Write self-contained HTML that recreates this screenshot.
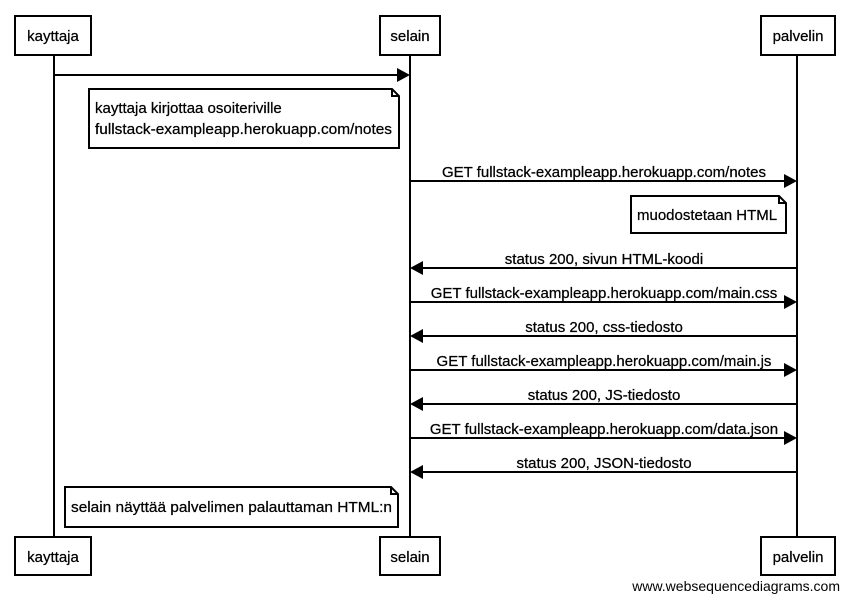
<!DOCTYPE html>
<html><head><meta charset="utf-8"><style>
html,body{margin:0;padding:0;background:#fff;}
svg{display:block;}
text{font-family:"Liberation Sans",Arial,sans-serif;font-size:15px;fill:#000;stroke:#000;stroke-width:0.25;}
</style></head><body>
<svg width="849" height="601" xmlns="http://www.w3.org/2000/svg">
<g stroke="#000" stroke-width="2" fill="none">
<line x1="54" y1="55" x2="54" y2="537"/>
<line x1="410" y1="55" x2="410" y2="537"/>
<line x1="797" y1="55" x2="797" y2="537"/>
<rect x="15" y="16" width="76" height="39" fill="#fff"/>
<rect x="380" y="16" width="60" height="39" fill="#fff"/>
<rect x="761" y="16" width="74" height="39" fill="#fff"/>
<rect x="15" y="537" width="76" height="38" fill="#fff"/>
<rect x="380" y="537" width="60" height="38" fill="#fff"/>
<rect x="761" y="537" width="74" height="38" fill="#fff"/>
<path d="M89 89 H392 L399 96 V148 H89 Z M392 89 V96 H399" fill="#fff"/>
<path d="M631 196 H779 L786 203 V233 H631 Z M779 196 V203 H786" fill="#fff"/>
<path d="M65 487 H391 L398 494 V527 H65 Z M391 487 V494 H398" fill="#fff"/>
<line x1="54" y1="75" x2="398" y2="75"/>
<line x1="410" y1="181" x2="785" y2="181"/>
<line x1="797" y1="268" x2="422" y2="268"/>
<line x1="410" y1="302" x2="785" y2="302"/>
<line x1="797" y1="336" x2="422" y2="336"/>
<line x1="410" y1="370" x2="785" y2="370"/>
<line x1="797" y1="404" x2="422" y2="404"/>
<line x1="410" y1="438" x2="785" y2="438"/>
<line x1="797" y1="472" x2="422" y2="472"/>
</g>
<g fill="#000">
<polygon points="410,75 397,68 397,82"/>
<polygon points="797,181 784,174 784,188"/>
<polygon points="410,268 423,261 423,275"/>
<polygon points="797,302 784,295 784,309"/>
<polygon points="410,336 423,329 423,343"/>
<polygon points="797,370 784,363 784,377"/>
<polygon points="410,404 423,397 423,411"/>
<polygon points="797,438 784,431 784,445"/>
<polygon points="410,472 423,465 423,479"/>
</g>
<text x="53" y="41" text-anchor="middle">kayttaja</text>
<text x="410" y="41" text-anchor="middle">selain</text>
<text x="798" y="41" text-anchor="middle">palvelin</text>
<text x="53" y="562" text-anchor="middle">kayttaja</text>
<text x="410" y="562" text-anchor="middle">selain</text>
<text x="798" y="562" text-anchor="middle">palvelin</text>
<text x="95" y="113">kayttaja kirjottaa osoiteriville</text>
<text x="95" y="134" textLength="297" lengthAdjust="spacingAndGlyphs">fullstack-exampleapp.herokuapp.com/notes</text>
<text x="637" y="220">muodostetaan HTML</text>
<text x="71" y="512" textLength="321" lengthAdjust="spacingAndGlyphs">selain näyttää palvelimen palauttaman HTML:n</text>
<g text-anchor="middle">
<text x="604" y="177">GET fullstack-exampleapp.herokuapp.com/notes</text>
<text x="604" y="264">status 200, sivun HTML-koodi</text>
<text x="604" y="298">GET fullstack-exampleapp.herokuapp.com/main.css</text>
<text x="604" y="332">status 200, css-tiedosto</text>
<text x="604" y="366">GET fullstack-exampleapp.herokuapp.com/main.js</text>
<text x="604" y="400">status 200, JS-tiedosto</text>
<text x="604" y="434">GET fullstack-exampleapp.herokuapp.com/data.json</text>
<text x="604" y="468">status 200, JSON-tiedosto</text>
</g>
<text x="840" y="591" text-anchor="end" style="font-size:14px;stroke-width:0">www.websequencediagrams.com</text>
</svg>
</body></html>
